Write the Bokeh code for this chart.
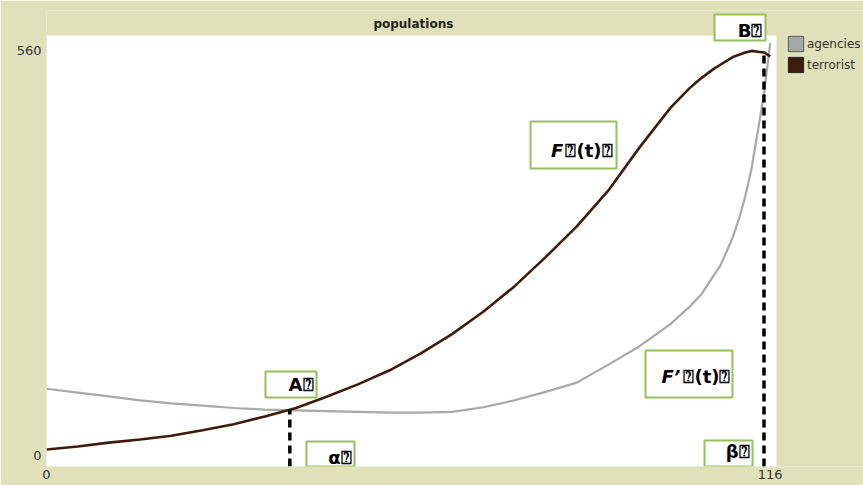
from bokeh.plotting import figure
from bokeh.models import Range1d, FixedTicker, BoxAnnotation, Label, Legend, LegendItem
from bokeh.embed import file_html
from bokeh.resources import INLINE
import numpy as np

# ---------------- data ----------------
T = [0, 5, 10, 15, 20, 25, 30, 35, 40, 45, 50, 55, 60, 65, 70, 75, 80, 85, 90, 95,
     100, 103, 105, 107, 108, 109, 110, 111, 112, 113, 114, 115, 116]
AGENCIES = [101, 96, 91, 86, 82, 79, 76, 74, 73, 72, 71, 70, 70, 71, 77, 86, 97, 109, 132, 156,
            185, 207, 224, 249, 261, 279, 298, 322, 351, 387, 435, 484, 550]
TERRORISTS = [22, 26, 31, 35, 40, 47, 55, 65, 76, 91, 107, 125, 147, 172, 201, 234, 272, 312, 358, 414,
              466, 491, 505, 517, 522, 527, 532, 535, 538, 540, 539, 538, 533]
SERIES_NAMES = ["agencies", "terrorist"]
X_TICKS = [0, 116]
Y_TICKS = [0, 560]
ALPHA_T = 39
BETA_T = 115
TITLE = "populations"
Q = "\u2370"
NOTE_TEXTS = {"B": "B" + Q, "A": "A" + Q, "alpha": "\u03b1" + Q, "beta": "\u03b2" + Q,
              "F": Q + "(t)" + Q, "Fp": Q + "(t)" + Q}
NOTE_PREFIX = {"F": "F", "Fp": "F\u2019"}

# ---------------- styles / positions ----------------
BEIGE = "#e0e0ba"
GRAY = "#a8a8a8"
BROWN = "#3e1c0c"
GREEN = "#97bf5c"
FONT = "DejaVu Sans"
X_PLOT_END = 117       # right edge of the white plot area
X_VIEW_END = 130.95    # view extends right to hold the legend
Y_VIEW_TOP = 592.5     # view extends above the plot top to hold the title band

# note boxes: (left, right, top, bottom) in data units
BOXES = {
    "B": (107.07, 115.24, 587.3, 553.5),
    "F": (77.58, 91.36, 448.3, 387.2),
    "Fp": (96.01, 109.95, 150.7, 89.65),
    "A": (35.10, 43.28, 123.4, 89.65),
    "alpha": (41.67, 49.37, 32.5, 0.0),
    "beta": (105.47, 113.16, 33.8, 0.0),
}
# text anchor (right edge, vertical middle)
TEXT_POS = {
    "B": (114.76, 566.5),
    "F": (90.72, 410.6),
    "Fp": (109.63, 116.9),
    "A": (42.8, 106.5),
    "alpha": (48.9, 11.7),
    "beta": (112.68, 19.5),
}
PREFIX_POS = {"F": (82.85, 410.6), "Fp": (101.6, 116.9)}
TITLE_POS = (58.8, 575.6)

p = figure(width=863, height=485, output_backend="svg", toolbar_location=None,
           x_range=Range1d(0, X_VIEW_END), y_range=Range1d(0, Y_VIEW_TOP),
           min_border_left=46, min_border_right=0, min_border_top=10, min_border_bottom=19)
p.border_fill_color = BEIGE
p.background_fill_color = BEIGE
p.outline_line_color = None
p.grid.visible = False

for ax in (p.xaxis[0], p.yaxis[0]):
    ax.axis_line_color = None
    ax.major_tick_line_color = None
    ax.minor_tick_line_color = None
    ax.major_tick_out = 0
    ax.major_tick_in = 0
    ax.major_label_text_font = FONT
    ax.major_label_text_font_size = "13px"
    ax.major_label_text_color = "#333333"

p.xaxis.ticker = FixedTicker(ticks=X_TICKS)
p.xaxis.major_label_standoff = 3
# NetLogo-style: min label sits inside the bottom, max label inside the top
y_lab_pos = [Y_TICKS[0] + 14, Y_TICKS[1] - 20]
p.yaxis.ticker = FixedTicker(ticks=y_lab_pos)
p.yaxis.major_label_overrides = {y_lab_pos[0]: str(Y_TICKS[0]), y_lab_pos[1]: str(Y_TICKS[1])}
p.yaxis.major_label_standoff = 5

# white plot area (under the curves)
p.add_layout(BoxAnnotation(left=X_TICKS[0], right=X_PLOT_END, bottom=Y_TICKS[0], top=Y_TICKS[1],
                           fill_color="white", fill_alpha=1, line_color=None, level="underlay"))

# curves
p.line(T, AGENCIES, line_color=GRAY, line_width=2.2)
p.line(T, TERRORISTS, line_color=BROWN, line_width=2.6)

# dashed markers at alpha and beta
top_a = float(np.interp(ALPHA_T, T, TERRORISTS))
top_b = float(np.interp(BETA_T, T, TERRORISTS))
p.segment(x0=[ALPHA_T, BETA_T], y0=[0, 0], x1=[ALPHA_T, BETA_T], y1=[top_a, top_b],
          line_color="black", line_width=3.5, line_dash="8 5")

# title in the band above the plot area
p.add_layout(Label(x=TITLE_POS[0], y=TITLE_POS[1], text=TITLE, text_align="center",
                   text_baseline="middle", text_font=FONT, text_font_size="12px",
                   text_font_style="bold", text_color="#222222"))

# note boxes
for key, (l, r, t, b) in BOXES.items():
    p.add_layout(BoxAnnotation(left=l, right=r, top=t, bottom=b, fill_color="white", fill_alpha=1,
                               line_color=GREEN, line_width=2, line_alpha=1))
for key, (x, y) in TEXT_POS.items():
    p.add_layout(Label(x=x, y=y, text=NOTE_TEXTS[key], text_align="right", text_baseline="middle",
                       text_font=FONT, text_font_size="18px", text_font_style="bold",
                       text_color="black"))
for key, (x, y) in PREFIX_POS.items():
    p.add_layout(Label(x=x, y=y, text=NOTE_PREFIX[key], text_align="right", text_baseline="middle",
                       text_font=FONT, text_font_size="18px", text_font_style="bold italic",
                       text_color="black"))

# legend with square swatches (swatch renderers hold no visible data)
nan = [float("nan")]
r_ag = p.quad(left=nan, right=nan, top=nan, bottom=nan, fill_color=GRAY, line_color="#555555")
r_te = p.quad(left=nan, right=nan, top=nan, bottom=nan, fill_color=BROWN, line_color="#222222")
legend = Legend(items=[LegendItem(label=SERIES_NAMES[0], renderers=[r_ag]),
                       LegendItem(label=SERIES_NAMES[1], renderers=[r_te])],
                location=(740, 392), orientation="vertical",
                glyph_width=19, glyph_height=19, label_height=19, spacing=2,
                padding=0, margin=0, label_standoff=2,
                background_fill_alpha=0, border_line_color=None,
                label_text_font=FONT, label_text_font_size="12px", label_text_color="#333333")
p.add_layout(legend)

open("out.html", "w").write(file_html(p, INLINE))
